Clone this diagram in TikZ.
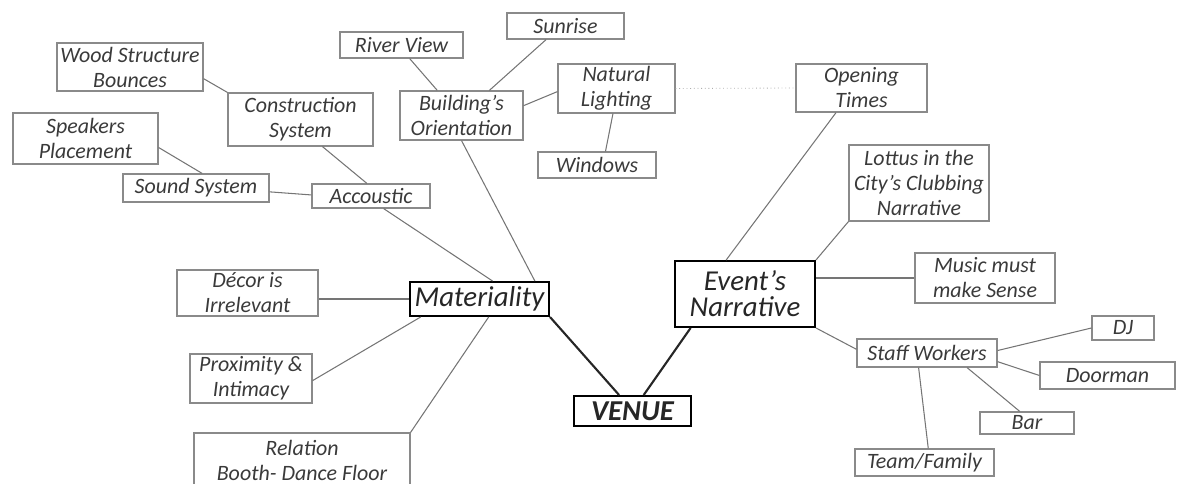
\documentclass[tikz,border=0pt]{standalone}
\usepackage{fontspec}
\setmainfont{Carlito}
\usepackage{xcolor}
\usetikzlibrary{positioning}
\definecolor{boxline}{HTML}{8A8A8A}
\definecolor{inkgray}{HTML}{3A3A3A}

\begin{document}
\begin{tikzpicture}[x=0.025cm, y=-0.025cm,
  idea/.style={draw=boxline, line width=0.8pt, text=inkgray, align=center, inner sep=0pt,
    font=\fontsize{15.6}{17.8}\selectfont\itshape},
  hub/.style={draw=black, line width=1.4pt, text=black!85, align=center, inner sep=0pt,
    font=\fontsize{20.5}{18.6}\selectfont\itshape},
  sz/.style 2 args={minimum width=#1*0.025cm, minimum height=#2*0.025cm},
  link/.style={draw=boxline!85!black, line width=0.75pt},
  spoke/.style={draw=black!85, line width=1.5pt}]
% page
\useasboundingbox (0,0) rectangle (1177,484);
\clip (0,0) rectangle (1177,484);
% main ideas
\node[hub, sz={139}{34}] (mat) at (479.5,299) {Materiality};
\node[hub, sz={140}{66}] (event) at (745,294) {Event’s\\Narrative};
\node[hub, sz={117}{30}, font=\fontsize{20.5}{16.4}\selectfont\bfseries\itshape] (venue) at (632.5,411) {VENUE};
% materiality branch
\node[idea, sz={146}{48}] (wood) at (130,67) {Wood Structure\\Bounces};
\node[idea, sz={145}{53}] (constr) at (300.5,119.5) {Construction\\System};
\node[idea, sz={145}{51}] (speak) at (85.5,138.5) {Speakers\\Placement};
\node[idea, sz={146}{28}] (sound) at (196,188) {Sound System};
\node[idea, sz={118}{24}] (acc) at (371,196) {Accoustic};
\node[idea, sz={123}{26}] (river) at (401.5,45) {River View};
\node[idea, sz={117}{26}] (sunrise) at (565.5,26) {Sunrise};
\node[idea, sz={123}{49}] (build) at (461.5,115.5) {Building’s\\Orientation};
\node[idea, sz={117}{49}] (natlight) at (616.5,88.5) {Natural\\Lighting};
\node[idea, sz={118}{26}] (windows) at (597,165) {Windows};
\node[idea, sz={141}{46}] (decor) at (247.5,293) {Décor is\\Irrelevant};
\node[idea, sz={122}{49}] (prox) at (251,378.5) {Proximity \&\\Intimacy};
\node[idea, sz={216}{54}] (relation) at (302,460) {Relation\\Booth- Dance Floor};
% narrative branch
\node[idea, sz={131}{48}] (opening) at (861.5,88) {Opening\\Times};
\node[idea, sz={140}{76}] (lottus) at (919,183) {Lottus in the\\City’s Clubbing\\Narrative};
\node[idea, sz={140}{50}] (music) at (985,278) {Music must\\make Sense};
\node[idea, sz={140}{28}] (staff) at (927,353) {Staff Workers};
\node[idea, sz={62}{24}] (dj) at (1123,328) {DJ};
\node[idea, sz={135}{27}] (door) at (1107.5,375.5) {Doorman};
\node[idea, sz={94}{22}] (bar) at (1027,423) {Bar};
\node[idea, sz={139}{27}] (team) at (924.5,462.5) {Team/Family};
% thin links
\foreach \a/\b in {wood.-9/constr.north west, constr.-51/acc.108, speak.-7/sound.67,
    sound.-3/acc.179, acc.-45/mat.54, river.-59/build.134, sunrise.-145/build.42,
    build.9/natlight.183, natlight.-98/windows.58, build.south/mat.18,
    opening.-136/event.119, lottus.south west/event.north east,
    event.south east/staff.177, staff.2/dj.west, staff.-7/door.west,
    staff.-20/bar.122, staff.-120/team.75, mat.-163/prox.-2,
    mat.-63/relation.north east}
  \draw[link] (\a) -- (\b);
\draw[link] (mat.west) -- (mat.west -| decor.east);
\draw[link] (event.east |- music.west) -- (music.west);
% dotted hint
\draw[boxline!70, line width=0.6pt, dotted] (natlight.east) -- (opening.west);
% spokes to the venue
\draw[spoke] (mat.south east) -- (venue.130);
\draw[spoke] (event.-148) -- (venue.55);
\end{tikzpicture}
\end{document}
